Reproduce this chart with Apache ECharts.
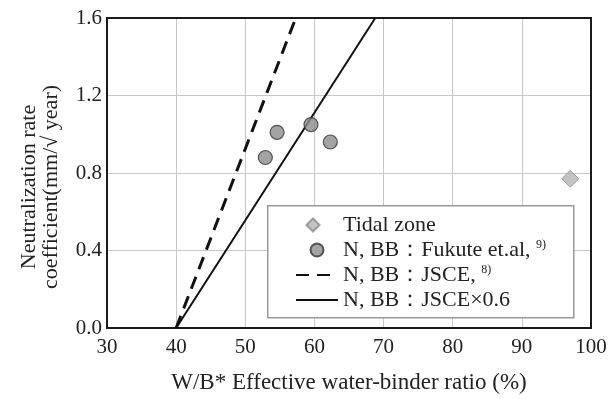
<!DOCTYPE html>
<html><head><meta charset="utf-8">
<script src="https://cdn.jsdelivr.net/npm/echarts@6/dist/echarts.min.js"></script>
<style>html,body{margin:0;padding:0;background:#fff}#c{width:614px;height:399px}</style>
</head><body><div id="c"></div>
<script>
var xTicks = [30, 40, 50, 60, 70, 80, 90, 100];
var yTicks = [0.0, 0.4, 0.8, 1.2, 1.6];
var tidalZone = [[97.0, 0.77]];
var fukute = [[52.9, 0.88], [54.6, 1.01], [59.5, 1.05], [62.3, 0.96]];
var jsce = [[40, 0], [57.3, 1.6]];
var jsce06 = [[40, 0], [68.8, 1.6]];
var names = ['Tidal zone', 'N, BB：Fukute et.al, ', 'N, BB：JSCE, ', 'N, BB：JSCE×0.6'];
var sups = ['', '9)', '8)', ''];

var font = '"Liberation Serif", "DejaVu Serif", serif';
var chart = echarts.init(document.getElementById('c'), null, {renderer: 'canvas'});
chart.setOption({
  animation: false,
  textStyle: {fontFamily: font},
  grid: {left: 107, right: 23, top: 18, bottom: 71, show: true, borderColor: '#1a1a1a', borderWidth: 2, z: 3},
  xAxis: {
    type: 'value', min: xTicks[0], max: xTicks[xTicks.length - 1], interval: 10,
    axisLine: {show: false}, axisTick: {show: false},
    splitLine: {show: true, lineStyle: {color: '#c8c8c8', width: 1}},
    axisLabel: {color: '#222', fontSize: 21, fontFamily: font, margin: 9},
    name: 'W/B* Effective water-binder ratio (%)', nameLocation: 'middle', nameGap: 43,
    nameTextStyle: {color: '#222', fontSize: 23, fontFamily: font}
  },
  yAxis: {
    type: 'value', min: yTicks[0], max: yTicks[yTicks.length - 1], interval: 0.4,
    axisLine: {show: false}, axisTick: {show: false},
    splitLine: {show: true, lineStyle: {color: '#c8c8c8', width: 1}},
    axisLabel: {color: '#222', fontSize: 21, fontFamily: font, margin: 5, formatter: function (v) { return v.toFixed(1); }},
    name: 'Neutralization rate\ncoefficient(mm/√ year)', nameLocation: 'middle', nameGap: 45, nameRotate: 90,
    nameTextStyle: {color: '#222', fontSize: 22, fontFamily: font, lineHeight: 22, padding: [0, 28, 0, 0]}
  },
  graphic: [{type: 'rect', left: 267, top: 205, shape: {width: 306, height: 112}, style: {fill: '#fff', stroke: '#999', lineWidth: 1.5}, z: 4}],
  legend: {
    orient: 'vertical', left: 290, top: 209, itemGap: 3, itemWidth: 42, itemHeight: 13, z: 5,
    data: [
      {name: names[0], icon: 'path://M0,0 M42,13 M17,0 L23.5,6.5 L17,13 L10.5,6.5 Z'},
      {name: names[1], icon: 'circle'},
      {name: names[2], itemStyle: {opacity: 0}},
      {name: names[3], itemStyle: {opacity: 0}}
    ],
    textStyle: {color: '#222', fontSize: 22, fontFamily: font,
      rich: {s: {fontSize: 12, fontFamily: font, color: '#222', padding: [0, 0, 10, 0]}}},
    formatter: function (n) { var i = names.indexOf(n); return sups[i] ? n + '{s|' + sups[i] + '}' : n; }
  },
  series: [
    {name: names[0], type: 'scatter', data: tidalZone, symbol: 'diamond', symbolSize: [17, 17],
      itemStyle: {color: '#b4b4b4', borderColor: '#8a8a8a', borderWidth: 1}, z: 6},
    {name: names[1], type: 'scatter', data: fukute, symbol: 'circle', symbolSize: 14,
      itemStyle: {color: '#8c8c8c', borderColor: '#333', borderWidth: 1.2}, z: 6},
    {name: names[2], type: 'line', data: jsce, symbol: 'none', clip: true,
      itemStyle: {color: '#111'},
      lineStyle: {color: '#111', width: 3, type: [13, 8]}, z: 5},
    {name: names[3], type: 'line', data: jsce06, symbol: 'none', clip: true,
      itemStyle: {color: '#111'},
      lineStyle: {color: '#111', width: 2}, z: 5}
  ]
});
</script></body></html>
